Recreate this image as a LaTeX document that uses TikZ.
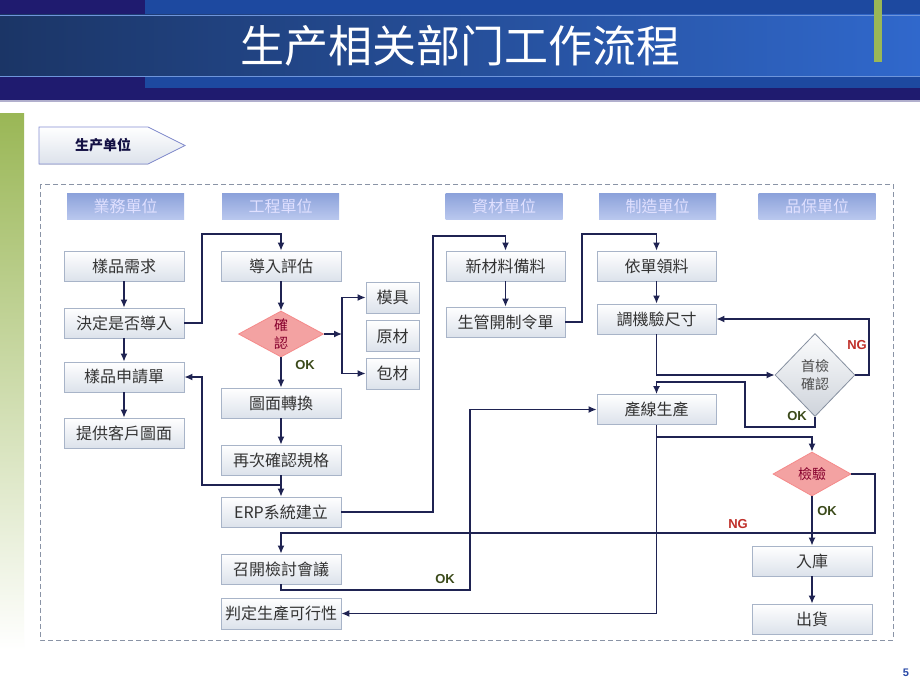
\documentclass[tikz,border=0pt]{standalone}
\usepackage{fontspec}
\usepackage{tikz}
\usetikzlibrary{shapes.geometric}
\usetikzlibrary{arrows.meta}
\newfontfamily\cjk{Noto Sans CJK TC}
\newfontfamily\arial{Liberation Sans}
\definecolor{navy}{HTML}{1F1B6F}
\definecolor{hdrblue}{HTML}{1D49A0}
\definecolor{hdrdark}{HTML}{1B3566}
\definecolor{hdrlight}{HTML}{3068CC}
\definecolor{leaf}{HTML}{9AB756}
\definecolor{boxline}{HTML}{A8B4C8}
\definecolor{boxbot}{HTML}{DCE2EB}
\definecolor{unittop}{HTML}{8BA1DA}
\definecolor{unitbot}{HTML}{B9C7EE}
\definecolor{linecol}{HTML}{1F2352}
\definecolor{rosefill}{HTML}{F3A2A2}
\definecolor{okgreen}{HTML}{3B4A1A}
\definecolor{ngred}{HTML}{C0302A}
\definecolor{dashgray}{HTML}{8A94A6}

\tikzset{
  proc/.style={draw=boxline, line width=0.8pt, top color=white, bottom color=boxbot,
    minimum width=120pt, minimum height=30pt, inner sep=0pt, text=black!80,
    font=\cjk\fontsize{16}{16}\selectfont},
  unit/.style={top color=unittop, bottom color=unitbot, minimum width=117pt,
    minimum height=26pt, inner sep=0pt, text=white!88!blue,
    font=\cjk\fontsize{16}{16}\selectfont},
  chk/.style={diamond, draw=rosefill!85!red, line width=0.8pt, fill=rosefill,
    inner sep=0pt, align=center, text=purple!70!black,
    font=\cjk\fontsize{14}{18}\selectfont},
  flow/.style={draw=linecol, line width=1.4pt, -{Latex[length=8pt,width=7pt]}},
  oklab/.style={text=okgreen, font=\arial\bfseries\fontsize{13}{13}\selectfont},
  nglab/.style={text=ngred, font=\arial\bfseries\fontsize{13}{13}\selectfont}
}

\begin{document}
\begin{tikzpicture}[x=1pt, y=-1pt]
\useasboundingbox (0,0) rectangle (920,690);
\fill[white] (0,0) rectangle (920,690);

% header
\fill[navy] (0,0) rectangle (920,100);
\fill[hdrblue] (145,0) rectangle (920,15);
\fill[hdrblue] (145,76) rectangle (920,88);
\shade[left color=hdrdark, right color=hdrlight] (0,15) rectangle (920,76);
\draw[hdrlight!70!white, line width=0.8pt] (0,15) -- (920,15);
\draw[hdrlight!70!white, line width=0.8pt] (0,76) -- (920,76);
\draw[navy!35!white, line width=1.5pt] (0,101) -- (920,101);
\fill[leaf] (874,0) rectangle (882,62);
\node[text=white] (title) at (460,46) {\cjk\fontsize{44}{44}\selectfont 生产相关部门工作流程};

\shade[top color=leaf, bottom color=white] (0,114) rectangle (24,650);

\filldraw[draw=boxline!80!blue, line width=0.8pt, top color=white, bottom color=boxbot]
  (39,127) -- (148,127) -- (185,145.5) -- (148,164) -- (39,164) -- cycle;
\node[text=navy!60!black] (unitname) at (103,145.5) {\cjk\bfseries\fontsize{14}{14}\selectfont 生产单位};

\draw[dashgray, line width=1pt, dash pattern=on 5pt off 3pt] (40,184) rectangle (893,640);

% department titles
\node[unit] (u1) at (125.5,206) {業務單位};
\node[unit] (u2) at (280.5,206) {工程單位};
\node[unit] (u3) at (504,206) {資材單位};
\node[unit] (u4) at (657.5,206) {制造單位};
\node[unit] (u5) at (817,206) {品保單位};

% boxes
\node[proc] (a1) at (124,266) {樣品需求};
\node[proc] (a2) at (124,323) {決定是否導入};
\node[proc] (a3) at (124,377) {樣品申請單};
\node[proc] (a4) at (124,433) {提供客戶圖面};

\node[proc] (b1) at (281,266) {導入評估};
\node[chk, minimum width=85pt, minimum height=46pt, aspect=1.85] (b2) at (281,334) {確\\認};
\node[proc] (b3) at (281,403) {圖面轉換};
\node[proc] (b4) at (281,460) {再次確認規格};
\node[proc] (b5) at (281,512) {ERP系統建立};
\node[proc] (b6) at (281,569) {召開檢討會議};
\node[proc, minimum height=31pt] (b7) at (281,613.5) {判定生產可行性};

\node[proc, minimum width=53pt, minimum height=31pt] (m1) at (392.5,297.5) {模具};
\node[proc, minimum width=53pt, minimum height=31pt] (m2) at (392.5,336) {原材};
\node[proc, minimum width=53pt, minimum height=31pt] (m3) at (392.5,373.5) {包材};

\node[proc, minimum width=119pt] (c1) at (505.5,266) {新材料備料};
\node[proc, minimum width=119pt] (c2) at (505.5,322) {生管開制令單};

\node[proc, minimum width=119pt] (d1) at (656.5,266) {依單領料};
\node[proc, minimum width=119pt] (d2) at (656.5,319) {調機驗尺寸};
\node[proc, minimum width=119pt] (d3) at (656.5,409.5) {產線生產};

\node[chk, minimum width=80pt, minimum height=83pt, aspect=1, draw=boxline!80!black,
  fill=none, top color=white!90!boxbot, bottom color=boxbot!85!gray, text=black!70] (e1) at (815,375) {首檢\\確認};
\node[chk, minimum width=78pt, minimum height=44pt, aspect=1.8] (e2) at (812,474) {檢驗};
\node[proc] (e3) at (812,561) {入庫};
\node[proc] (e4) at (812,619) {出貨};

% bends
\coordinate (sp) at (342,334);
\coordinate (k1) at (745,427);
\coordinate (k2) at (745,382);
\coordinate (k3) at (700,437);
\coordinate (k4) at (875,533);
\coordinate (k5) at (470,590);

% connectors
\draw[flow] (a1) -- (a2);
\draw[flow] (a2) -- (a3);
\draw[flow] (a3) -- (a4);
\draw[flow] (a2.east) -| (202,234) -| (b1.north);
\draw[flow] (b1) -- (b2);
\draw[flow] (b2) -- (b3);
\draw[flow] (b2.east) -- (sp);
\draw[flow] (sp) |- (m1.west);
\draw[flow] (sp) |- (m3.west);
\draw[flow] (b3) -- (b4);
\draw[flow] (b4) -- (b5);
\draw[flow] (281,485) -| (202,420) |- (a3.east);
\draw[flow] (b5.east) -| (433,236) -| (c1.north);
\draw[flow] (c1) -- (c2);
\draw[flow] (c2.east) -| (582,234) -| (d1.north);
\draw[flow] (d1) -- (d2);
\draw[flow] (d2.south) |- (e1.west);
\draw[flow] (e1.east) -| (869,347) |- (d2.east);
\draw[flow] (e1.south) |- (k1) -- (k2) -| (d3.north);
\draw[flow] (d3.south) |- (k3) -| (e2.north);
\draw[flow] (d3.south) |- (b7.east);
\draw[flow] (e2) -- (e3);
\draw[flow] (e3) -- (e4);
\draw[flow] (e2.east) -| (k4) -| (b6.north);
\draw[flow] (b6.south) |- (k5) |- (d3.west);

% labels
\node[oklab] (ok1) at (305,365) {OK};
\node[nglab] (ng1) at (857,345) {NG};
\node[oklab] (ok2) at (797,416) {OK};
\node[oklab] (ok3) at (827,511) {OK};
\node[nglab] (ng2) at (738,524) {NG};
\node[oklab] (ok4) at (445,579) {OK};

\node[text=navy!40!hdrlight] (pg) at (906,673) {\arial\bfseries\fontsize{11}{11}\selectfont 5};
\end{tikzpicture}
\end{document}
